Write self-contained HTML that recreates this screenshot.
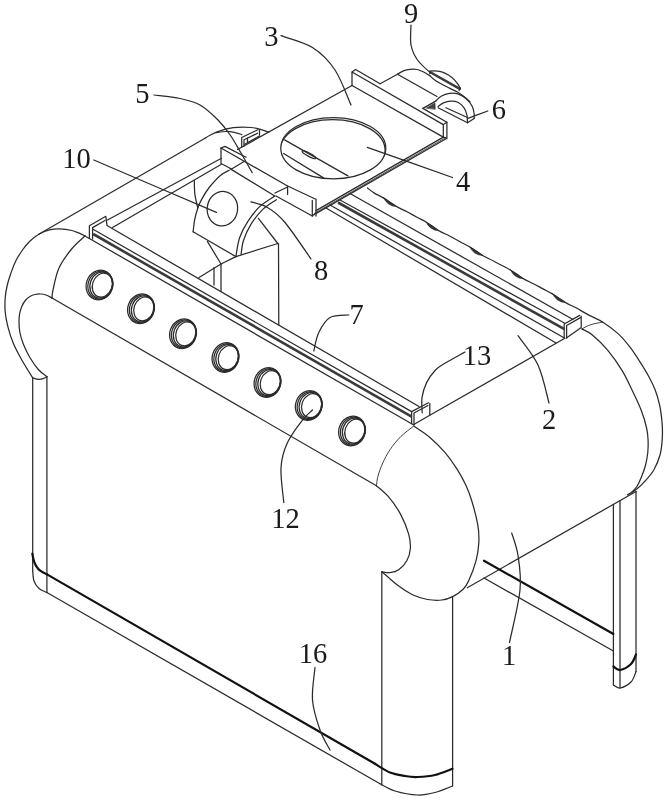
<!DOCTYPE html>
<html><head><meta charset="utf-8"><title>Figure</title>
<style>
html,body{margin:0;padding:0;background:#fff;}
body{width:668px;height:800px;overflow:hidden;}
svg{display:block;will-change:transform;transform:translateZ(0);}
.t{fill:none;stroke:#2b2b2b;stroke-width:1.25;stroke-linecap:round;stroke-linejoin:round;}
.k{fill:none;stroke:#111;stroke-width:2.2;stroke-linecap:round;stroke-linejoin:round;}
.m{fill:none;stroke:#3a3a3a;stroke-width:2.6;stroke-linecap:butt;}
.l{fill:none;stroke:#2b2b2b;stroke-width:1.25;stroke-linecap:round;}
text{font-family:"Liberation Serif","DejaVu Serif",serif;font-size:28.5px;fill:#1a1a1a;}
</style></head><body>
<svg width="668" height="800" viewBox="0 0 668 800">
<rect width="668" height="800" fill="#fff"/>
<g class="t">
<path d="M85.0 236.0 C83.8 235.4 80.2 233.6 78.0 232.7 C75.8 231.8 74.9 231.2 71.9 230.5 C68.9 229.8 63.6 228.9 59.9 228.8 C56.1 228.7 52.9 228.9 49.4 229.8 C45.9 230.7 42.1 232.2 38.8 234.2 C35.5 236.1 32.2 238.9 29.5 241.5 C26.8 244.1 24.8 246.8 22.5 250.0 C20.2 253.2 17.9 256.8 16.0 260.5 C14.1 264.2 12.6 268.3 11.2 272.4 C9.8 276.5 8.3 280.7 7.3 285.0 C6.3 289.3 5.5 293.5 5.2 298.0 C4.9 302.5 4.8 307.3 5.2 312.0 C5.6 316.7 6.5 321.1 7.8 326.3 C9.1 331.5 11.1 337.9 13.2 343.1 C15.3 348.3 18.0 353.1 20.4 357.5 C22.8 361.9 25.4 366.1 27.5 369.5 C29.6 372.9 31.8 376.4 32.7 377.8"/>
<path d="M52.0 298.0 C51.0 297.5 47.9 295.7 46.0 295.0 C44.1 294.3 42.2 294.1 40.4 294.0 C38.6 293.9 36.8 294.1 35.0 294.5 C33.2 294.9 31.4 295.6 29.9 296.5 C28.3 297.4 27.0 298.4 25.7 300.0 C24.4 301.6 23.0 303.7 22.0 306.0 C21.0 308.3 20.1 311.3 19.6 314.0 C19.1 316.7 19.0 319.0 19.0 322.0 C19.0 325.0 19.1 328.3 19.8 332.0 C20.5 335.7 21.7 340.1 23.4 344.3 C25.1 348.6 27.4 353.3 29.9 357.5 C32.4 361.7 35.5 366.3 38.3 369.5 C41.1 372.7 45.5 375.4 46.9 376.6"/>
<path d="M85.0 236.0 C82.8 238.1 76.3 243.2 72.0 248.5 C67.7 253.8 62.2 261.1 59.0 268.0 C55.8 274.9 54.2 285.0 53.0 290.0 C51.8 295.0 52.2 296.7 52.0 298.0"/>
<path d="M32.7 377.8 L32.7 571.0"/>
<path d="M46.9 376.6 L46.9 592.5"/>
<path d="M32.7 377.8 C33.7 378.1 36.8 379.2 38.5 379.3 C40.2 379.4 41.6 379.1 43.0 378.6 C44.4 378.2 46.2 376.9 46.9 376.6"/>
<path d="M32.7 571.0 C32.9 572.7 33.0 578.1 34.0 581.0 C35.0 583.9 36.9 586.6 39.0 588.5 C41.1 590.4 45.6 591.8 46.9 592.5"/>
<path d="M46.9 592.5 L380.0 783.8"/>
<path d="M380.0 783.8 C382.5 785.0 388.8 789.1 395.0 791.0 C401.2 792.9 410.8 794.8 417.5 795.0 C424.2 795.2 429.2 794.0 435.0 792.5 C440.8 791.0 449.6 787.1 452.5 786.0"/>
<path d="M381.8 571.8 L381.8 785.0"/>
<path d="M452.6 596.6 L452.6 786.0"/>
<path d="M413.8 426.0 C416.4 427.9 424.7 433.0 429.9 437.4 C435.1 441.8 440.4 447.1 444.9 452.4 C449.4 457.6 453.4 463.4 456.9 468.9 C460.4 474.4 463.4 479.9 465.9 485.3 C468.4 490.7 469.8 494.4 471.8 501.0 C473.8 507.6 476.6 517.9 477.8 524.9 C479.0 531.9 479.1 536.9 478.8 542.9 C478.5 548.9 477.7 554.5 476.0 560.8 C474.3 567.1 470.9 575.9 468.8 580.6 C466.7 585.3 466.1 586.3 463.4 589.0 C460.7 591.7 456.2 594.8 452.6 596.6 C449.0 598.4 446.1 599.5 441.9 600.0 C437.7 600.5 432.3 600.3 427.5 599.5 C422.7 598.7 417.9 597.2 413.1 595.0 C408.3 592.8 402.9 589.0 398.7 586.0 C394.5 583.0 390.8 579.4 388.0 577.0 C385.2 574.6 382.8 572.7 381.7 571.8"/>
<path d="M376.4 485.7 C378.3 487.4 384.0 491.5 388.0 496.2 C392.0 500.9 397.1 507.8 400.5 514.1 C403.9 520.4 407.0 528.2 408.6 533.9 C410.2 539.6 410.7 543.8 410.4 548.3 C410.1 552.8 408.8 557.2 406.8 560.8 C404.9 564.4 401.5 567.8 398.7 569.8 C395.9 571.8 392.6 572.4 389.8 572.7 C387.0 573.0 383.1 571.9 381.7 571.8"/>
<path d="M52.0 298.0 L376.4 485.7"/>
<path d="M85.0 236.0 L413.4 424.8"/>
<path d="M107.0 225.5 L419.0 406.5"/>
<path d="M92.6 229.0 L411.6 411.6"/>
<path d="M89.4 238.3 L89.4 225.7 L105.8 216.3 L107.0 225.0"/>
<path d="M92.6 239.0 L92.6 227.6 L105.0 220.5"/>
<path d="M411.6 423.5 L411.6 411.6 L428.5 402.8"/>
<path d="M414.0 424.8 L414.0 413.0 L428.0 405.5"/>
<path d="M429.8 403.4 L429.8 415.3 L413.4 424.8"/>
<path d="M38.8 234.2 L205.0 138.3"/>
<path d="M205.0 138.3 C205.8 137.8 207.4 136.5 210.0 135.2 C212.6 133.9 216.8 131.9 220.7 130.7 C224.6 129.4 229.6 128.3 233.3 127.7 C237.0 127.1 240.0 127.0 243.0 127.0 C246.0 127.0 248.3 127.2 251.1 127.5 C253.8 127.8 257.2 128.5 259.5 129.1 C261.8 129.7 263.4 130.3 265.0 130.8 C266.6 131.3 268.2 132.0 268.8 132.2"/>
<path d="M216.0 132.6 C217.7 132.4 222.9 131.6 226.0 131.5 C229.1 131.4 231.7 131.8 234.3 132.3 C236.9 132.8 240.5 134.2 241.7 134.6"/>
<path d="M107.5 220.0 L221.0 158.5"/>
<path d="M112.5 227.5 L221.0 164.5"/>
<path d="M229.2 170.3 C227.7 171.2 223.8 172.6 220.4 175.5 C217.0 178.4 212.0 184.0 208.8 188.0 C205.7 192.0 203.3 196.3 201.5 199.6 C199.7 202.9 198.9 204.7 197.8 208.0 C196.7 211.3 195.5 215.6 194.7 219.6 C193.9 223.6 193.4 229.8 193.1 231.8"/>
<path d="M194.3 180.7 C194.4 183.0 194.3 189.8 194.9 194.4 C195.5 199.0 197.3 205.7 197.8 208.0"/>
<path d="M193.1 231.8 L235.9 256.6"/>
<path d="M274.8 196.0 C272.3 197.7 264.4 202.2 259.9 206.4 C255.4 210.6 251.3 216.2 247.9 221.4 C244.5 226.6 241.6 231.9 239.6 237.8 C237.6 243.7 236.5 253.5 235.9 256.6"/>
<path d="M276.3 199.7 C274.1 201.3 267.0 205.3 262.8 209.4 C258.6 213.5 254.1 219.2 250.9 224.4 C247.7 229.6 245.0 235.8 243.4 240.8 C241.8 245.8 241.5 252.1 241.1 254.3"/>
<path d="M229.9 168.6 L274.8 196.0"/>
<path d="M207.5 241.6 L221.0 264.0"/>
<path d="M221.0 264.0 L235.9 256.6"/>
<path d="M221.0 264.0 L199.0 277.5"/>
<path d="M221.0 264.0 L221.0 291.0"/>
<path d="M214.0 267.5 L214.0 285.0"/>
<path d="M235.9 256.6 L277.8 243.5"/>
<path d="M258.4 218.4 L277.8 243.5"/>
<path d="M278.5 243.5 L278.8 325.0"/>
<path d="M221.0 148.0 L221.0 163.5 L231.6 169.0 L244.4 161.3"/>
<path d="M221.0 148.0 L225.0 146.4 L246.0 157.3"/>
<path d="M221.0 148.0 L287.6 186.0 L315.3 199.0"/>
<path d="M287.6 186.0 L287.6 194.4"/>
<path d="M316.0 199.0 L316.0 216.0"/>
<path d="M312.3 200.4 L312.3 216.0"/>
<path d="M276.0 196.0 L312.3 216.0"/>
<path d="M275.0 193.0 L287.6 187.0"/>
<path d="M237.5 149.5 L352.0 85.5"/>
<path d="M352.0 85.5 L352.0 72.0 L443.3 124.6 L443.3 137.1"/>
<path d="M352.0 72.0 L355.6 69.5 L380.1 83.7"/>
<path d="M422.9 108.4 L446.9 122.2 L446.9 138.3 L312.3 215.6"/>
<path d="M352.0 85.5 L443.3 137.1 L316.0 210.6"/>
<path d="M443.3 124.6 L446.9 122.2"/>
<path d="M443.3 137.1 L446.9 138.3"/>
<path d="M241.7 147.0 L241.7 137.5 L257.9 129.7"/>
<path d="M244.0 146.2 L244.0 139.8 L257.6 133.2"/>
<path d="M259.5 129.7 L259.5 135.2"/>
<path d="M244.6 144.2 L259.5 136.0"/>
<path d="M247.5 138.0 L247.5 142.3"/>
<path d="M284.6 139.9 L347.9 175.9"/>
<path d="M283.6 153.5 L323.5 177.9"/>
<path d="M380.1 83.7 C383.0 82.1 394.6 75.8 397.5 74.2"/>
<path d="M397.5 74.2 C398.6 73.6 401.9 71.4 404.0 70.6 C406.1 69.8 407.8 69.6 410.0 69.4 C412.2 69.2 415.0 69.1 417.2 69.5 C419.4 69.9 421.1 70.8 423.2 71.8 C425.3 72.8 428.5 75.0 429.6 75.6"/>
<path d="M397.5 74.2 L437.0 96.5"/>
<path d="M429.4 75.1 C430.4 76.0 432.3 78.5 435.7 80.7 C439.1 82.9 445.8 86.2 449.5 88.1 C453.2 90.0 455.5 90.9 457.9 92.3 C460.3 93.7 461.9 94.9 463.9 96.5 C465.9 98.1 468.9 100.8 469.9 101.7"/>
<path d="M435.7 101.1 C436.6 100.3 438.8 97.6 441.1 96.3 C443.4 95.0 446.7 93.7 449.5 93.3 C452.3 92.9 455.1 93.0 457.9 93.9 C460.7 94.8 463.9 96.6 466.3 98.7 C468.7 100.8 471.0 104.0 472.3 106.5 C473.6 109.0 473.8 111.7 474.1 113.7 C474.4 115.7 474.1 117.7 474.1 118.5"/>
<path d="M438.1 106.5 C439.0 105.9 441.4 103.8 443.5 102.9 C445.6 102.0 448.3 101.2 450.7 101.1 C453.1 101.0 455.7 101.2 457.9 102.3 C460.1 103.4 462.4 105.6 463.9 107.7 C465.4 109.8 466.3 112.4 466.9 114.9 C467.5 117.4 467.4 121.4 467.5 122.7"/>
<path d="M474.1 118.5 L467.5 122.7"/>
<path d="M438.1 107.7 L467.5 122.7"/>
<path d="M445.9 107.7 L466.9 117.3"/>
<path d="M422.9 108.4 L435.7 101.1"/>
<path d="M367.5 188.0 C368.6 188.8 371.4 191.3 374.0 192.9 C376.6 194.5 380.3 196.1 383.0 197.6 C385.7 199.2 387.5 200.5 390.0 202.2 C392.5 203.8 395.2 205.8 398.0 207.4 C400.8 209.0 403.9 210.2 407.0 211.8 C410.1 213.4 413.4 215.4 416.5 217.0 C419.6 218.7 422.8 220.2 425.5 221.7 C428.2 223.3 430.0 224.7 432.5 226.3 C435.0 228.0 437.7 230.0 440.5 231.6 C443.3 233.2 446.2 234.3 449.5 236.0 C452.8 237.7 456.8 240.0 460.0 241.7 C463.2 243.5 466.3 244.9 469.0 246.5 C471.7 248.0 473.5 249.4 476.0 251.0 C478.5 252.7 481.2 254.7 484.0 256.3 C486.8 257.9 490.2 259.2 493.0 260.7 C495.8 262.1 498.2 263.5 501.0 265.0 C503.8 266.5 507.3 268.2 510.0 269.7 C512.7 271.3 514.5 272.7 517.0 274.3 C519.5 276.0 522.2 278.0 525.0 279.6 C527.8 281.2 531.0 282.4 534.0 284.0 C537.0 285.5 540.0 287.3 543.0 288.9 C546.0 290.5 549.3 292.0 552.0 293.6 C554.7 295.1 556.5 296.5 559.0 298.2 C561.5 299.8 564.2 301.8 567.0 303.4 C569.8 305.0 572.3 305.8 576.0 307.8 C579.7 309.8 584.9 313.0 589.4 315.4 C593.9 317.8 598.2 319.2 602.9 322.2 C607.6 325.2 613.3 329.3 617.8 333.4 C622.3 337.5 626.1 342.1 629.8 346.9 C633.5 351.6 636.9 357.0 640.0 361.9 C643.1 366.8 646.0 371.4 648.5 376.0 C651.0 380.6 653.1 384.7 655.0 389.5 C656.9 394.3 658.4 399.6 659.6 405.0 C660.8 410.4 661.5 416.5 662.0 422.0 C662.5 427.5 662.6 432.5 662.3 438.0 C662.0 443.5 661.4 449.7 660.0 455.0 C658.6 460.3 656.2 465.6 653.8 470.0 C651.2 474.4 647.9 478.0 645.0 481.2 C642.1 484.5 639.2 487.3 636.2 489.6 C633.3 491.9 629.0 493.9 627.5 494.8"/>
<path d="M350.0 193.5 L573.0 319.5"/>
<path d="M340.0 200.0 L564.4 323.0"/>
<path d="M330.0 205.0 L564.4 338.0"/>
<path d="M326.0 208.0 L556.0 343.0"/>
<path d="M564.2 338.0 L564.2 324.0 L579.7 315.4"/>
<path d="M566.6 338.0 L566.6 325.5 L580.5 317.6"/>
<path d="M581.2 316.2 L581.2 327.6 L566.0 338.2"/>
<path d="M429.8 415.3 L564.4 338.5"/>
<path d="M581.9 328.9 C583.6 329.9 588.1 331.4 592.4 334.9 C596.6 338.4 602.4 343.9 607.4 349.9 C612.4 355.9 618.2 364.1 622.3 370.8 C626.4 377.5 628.8 383.3 632.0 390.0 C635.2 396.7 639.1 404.7 641.5 411.0 C643.9 417.3 645.5 423.2 646.6 428.0 C647.7 432.8 647.9 435.9 648.1 440.0 C648.3 444.1 648.2 448.3 647.8 452.5 C647.3 456.7 646.7 460.8 645.6 465.0 C644.5 469.2 642.7 473.9 641.2 477.5 C639.8 481.1 638.5 484.0 636.9 486.5 C635.3 489.0 632.4 491.5 631.5 492.5"/>
<path d="M636.0 491.5 L467.3 587.7"/>
<path d="M636.0 491.5 L636.0 671.6"/>
<path d="M620.0 500.5 L620.0 688.0"/>
<path d="M613.4 504.5 L613.4 685.0"/>
<path d="M613.4 685.0 C614.5 685.5 617.1 688.5 620.0 688.0 C622.9 687.5 628.3 684.7 631.0 682.0 C633.7 679.3 635.2 673.3 636.0 671.6"/>
<path d="M484.0 578.0 L613.4 651.0"/>
<path d="M413.3 426.4 C411.2 428.1 404.6 432.7 400.7 436.6 C396.8 440.5 393.0 445.3 390.0 449.7 C387.0 454.1 384.8 458.5 382.8 462.9 C380.8 467.3 379.1 472.2 378.0 476.0 C376.9 479.8 376.7 484.1 376.4 485.7" stroke-width="0.9"/>
<ellipse cx="99.5" cy="285.0" rx="13.2" ry="15.0" transform="rotate(20 99.5 285.0)"/>
<ellipse cx="100.3" cy="285.1" rx="12.2" ry="14.2" transform="rotate(20 100.3 285.1)"/>
<ellipse cx="101.2" cy="285.1" rx="11.1" ry="13.3" transform="rotate(20 101.2 285.1)"/>
<ellipse cx="102.3" cy="285.2" rx="9.8" ry="12.2" transform="rotate(20 102.3 285.2)"/>
<ellipse cx="141.0" cy="308.8" rx="13.2" ry="15.0" transform="rotate(20 141.0 308.8)"/>
<ellipse cx="141.8" cy="308.8" rx="12.2" ry="14.2" transform="rotate(20 141.8 308.8)"/>
<ellipse cx="142.7" cy="308.9" rx="11.1" ry="13.3" transform="rotate(20 142.7 308.9)"/>
<ellipse cx="143.8" cy="308.9" rx="9.8" ry="12.2" transform="rotate(20 143.8 308.9)"/>
<ellipse cx="183.0" cy="333.8" rx="13.2" ry="15.0" transform="rotate(20 183.0 333.8)"/>
<ellipse cx="183.8" cy="333.8" rx="12.2" ry="14.2" transform="rotate(20 183.8 333.8)"/>
<ellipse cx="184.7" cy="333.9" rx="11.1" ry="13.3" transform="rotate(20 184.7 333.9)"/>
<ellipse cx="185.8" cy="333.9" rx="9.8" ry="12.2" transform="rotate(20 185.8 333.9)"/>
<ellipse cx="225.5" cy="357.5" rx="13.2" ry="15.0" transform="rotate(20 225.5 357.5)"/>
<ellipse cx="226.3" cy="357.6" rx="12.2" ry="14.2" transform="rotate(20 226.3 357.6)"/>
<ellipse cx="227.2" cy="357.6" rx="11.1" ry="13.3" transform="rotate(20 227.2 357.6)"/>
<ellipse cx="228.3" cy="357.7" rx="9.8" ry="12.2" transform="rotate(20 228.3 357.7)"/>
<ellipse cx="267.5" cy="382.5" rx="13.2" ry="15.0" transform="rotate(20 267.5 382.5)"/>
<ellipse cx="268.3" cy="382.6" rx="12.2" ry="14.2" transform="rotate(20 268.3 382.6)"/>
<ellipse cx="269.2" cy="382.6" rx="11.1" ry="13.3" transform="rotate(20 269.2 382.6)"/>
<ellipse cx="270.3" cy="382.7" rx="9.8" ry="12.2" transform="rotate(20 270.3 382.7)"/>
<ellipse cx="308.8" cy="405.5" rx="13.2" ry="15.0" transform="rotate(20 308.8 405.5)"/>
<ellipse cx="309.6" cy="405.6" rx="12.2" ry="14.2" transform="rotate(20 309.6 405.6)"/>
<ellipse cx="310.5" cy="405.6" rx="11.1" ry="13.3" transform="rotate(20 310.5 405.6)"/>
<ellipse cx="311.6" cy="405.7" rx="9.8" ry="12.2" transform="rotate(20 311.6 405.7)"/>
<ellipse cx="352.0" cy="431.0" rx="13.2" ry="15.0" transform="rotate(20 352.0 431.0)"/>
<ellipse cx="352.8" cy="431.1" rx="12.2" ry="14.2" transform="rotate(20 352.8 431.1)"/>
<ellipse cx="353.7" cy="431.1" rx="11.1" ry="13.3" transform="rotate(20 353.7 431.1)"/>
<ellipse cx="354.8" cy="431.2" rx="9.8" ry="12.2" transform="rotate(20 354.8 431.2)"/>
<ellipse cx="222.4" cy="208.7" rx="15.2" ry="17.3" transform="rotate(8 222.4 208.7)"/>
<path d="M445 138 L314.3 213.4" stroke-width="0.8"/>
<ellipse cx="333.3" cy="148.2" rx="52.5" ry="30.6" transform="rotate(0 333.3 148.2)"/>
<clipPath id="hc"><ellipse cx="333.3" cy="148.2" rx="52.5" ry="30.6" transform="rotate(0 333.3 148.2)"/></clipPath>
<ellipse cx="332.6" cy="150.3" rx="52.5" ry="30.6" transform="rotate(0 332.6 150.3)" clip-path="url(#hc)"/>
<ellipse cx="309" cy="154.7" rx="7.8" ry="1.6" transform="rotate(28 309 154.7)"/>
<path d="M429.8 71.2 Q449.5 69 460.4 88.2"/>
<path d="M430.3 72.3 L459.8 88.9" stroke-width="2.4" stroke="#3a3a3a"/>
<path d="M429.8 71.2 L430 73.5 M460.4 88.2 L459 90.3"/>
<path d="M426.5 108 L435 103 L435.2 109 Z" fill="#444" stroke-width="0.6"/>
<path d="M383.5 197.8 Q387.4 206.2 396.5 206.7 Q390.2 201.8 383.5 197.8 Z" fill="#333" stroke-width="0.5"/>
<path d="M426.0 221.9 Q429.9 230.4 439.0 230.8 Q432.7 226.0 426.0 221.9 Z" fill="#333" stroke-width="0.5"/>
<path d="M469.5 246.6 Q473.4 255.1 482.5 255.5 Q476.2 250.7 469.5 246.6 Z" fill="#333" stroke-width="0.5"/>
<path d="M510.5 269.9 Q514.4 278.4 523.5 278.8 Q517.2 274.0 510.5 269.9 Z" fill="#333" stroke-width="0.5"/>
<path d="M552.5 293.8 Q556.4 302.2 565.5 302.7 Q559.2 297.8 552.5 293.8 Z" fill="#333" stroke-width="0.5"/>
<path d="M581.9 328.9 C583.1 328.3 586.9 326.1 589.4 325.2 C591.9 324.2 594.6 323.7 596.9 323.2 C599.1 322.7 601.9 322.4 602.9 322.2" stroke-width="0.9"/>
</g>
<g class="k">
<path d="M32.3 553.5 C32.6 555.0 33.3 559.8 34.4 562.5 C35.5 565.2 36.8 567.6 38.9 569.6 C41.0 571.6 45.6 573.6 47.0 574.4"/>
<path d="M47.0 574.4 L375.0 763.8"/>
<path d="M375.0 763.8 C377.5 765.2 385.0 770.5 390.0 772.5 C395.0 774.5 400.4 775.2 405.0 776.0 C409.6 776.8 412.5 777.2 417.5 777.0 C422.5 776.8 429.2 776.4 435.0 775.0 C440.8 773.6 449.6 769.8 452.5 768.8"/>
<path d="M613.4 666.5 C614.5 667.1 617.1 670.4 620.0 670.0 C622.9 669.6 628.3 666.6 631.0 664.0 C633.7 661.4 635.2 656.1 636.0 654.5"/>
<path d="M484.0 560.7 L613.4 634.0"/>
</g>
<g class="m">
<path d="M93.2 234.0 L411.6 416.6"/>
<path d="M338.0 202.5 L564.4 329.2"/>
</g>
<g class="l">
<path d="M281.0 35.7 C286.2 37.7 303.5 41.8 312.5 47.5 C321.5 53.2 328.6 60.4 335.0 70.0 C341.4 79.6 348.3 99.2 351.0 105.0"/>
<path d="M154.0 95.0 C158.3 95.6 172.3 96.8 180.0 98.5 C187.7 100.2 193.7 101.4 200.0 105.0 C206.3 108.6 213.0 115.0 218.0 120.0 C223.0 125.0 226.4 129.5 230.2 135.0 C234.0 140.5 237.3 146.7 241.0 153.0 C244.7 159.3 250.3 169.4 252.2 172.7"/>
<path d="M93.8 160.0 C114.2 168.7 196.0 203.7 216.4 212.4"/>
<path d="M411.0 25.0 C411.0 28.3 409.9 39.2 411.0 45.0 C412.1 50.8 414.3 55.4 417.5 60.0 C420.7 64.6 427.9 70.4 430.0 72.5"/>
<path d="M487.8 111.0 C484.5 112.2 471.3 117.1 468.0 118.3"/>
<path d="M452.5 177.5 C438.3 172.5 381.5 152.3 367.3 147.3"/>
<path d="M311.0 259.0 C306.7 252.9 292.2 231.1 285.0 222.5 C277.8 213.9 273.2 210.9 267.5 207.5 C261.8 204.1 253.7 202.8 250.9 201.9"/>
<path d="M348.8 315.0 C345.6 315.4 335.0 314.6 330.0 317.5 C325.0 320.4 321.5 326.9 318.8 332.5 C316.0 338.1 314.6 347.9 313.8 351.0"/>
<path d="M465.0 352.0 C461.5 354.0 448.9 360.8 444.0 363.8 C439.1 366.8 438.4 366.9 435.5 370.0 C432.6 373.1 428.9 378.0 426.6 382.6 C424.4 387.2 422.7 392.7 422.0 397.7 C421.3 402.7 422.2 410.3 422.2 412.8"/>
<path d="M549.0 403.0 C547.2 396.7 543.2 376.2 538.0 365.0 C532.8 353.8 521.3 340.6 518.0 335.7"/>
<path d="M283.8 502.5 C283.3 496.7 280.4 477.5 281.0 467.5 C281.6 457.5 283.9 450.4 287.5 442.5 C291.1 434.6 298.3 425.4 302.5 420.0 C306.7 414.6 310.8 411.7 312.5 410.0"/>
<path d="M509.5 642.5 C511.2 633.8 518.6 604.5 520.0 590.0 C521.4 575.5 519.4 565.0 518.0 555.5 C516.6 546.0 512.8 536.8 511.7 533.0"/>
<path d="M315.0 667.5 C314.6 672.9 311.7 689.6 312.5 700.0 C313.3 710.4 317.1 721.7 320.0 730.0 C322.9 738.3 328.3 746.7 330.0 750.0"/>
</g>
<g opacity="0.999">
<text x="271.3" y="46.2" text-anchor="middle">3</text>
<text x="142.3" y="102.7" text-anchor="middle">5</text>
<text x="411.2" y="22.7" text-anchor="middle">9</text>
<text x="498.8" y="119.2" text-anchor="middle">6</text>
<text x="463.0" y="191.2" text-anchor="middle">4</text>
<text x="76.6" y="168.0" text-anchor="middle">10</text>
<text x="321.2" y="279.7" text-anchor="middle">8</text>
<text x="356.5" y="324.2" text-anchor="middle">7</text>
<text x="477.0" y="365.2" text-anchor="middle">13</text>
<text x="549.0" y="428.8" text-anchor="middle">2</text>
<text x="285.6" y="527.8" text-anchor="middle">12</text>
<text x="509.0" y="665.2" text-anchor="middle">1</text>
<text x="313.0" y="662.8" text-anchor="middle">16</text>
</g>
</svg>
</body></html>
